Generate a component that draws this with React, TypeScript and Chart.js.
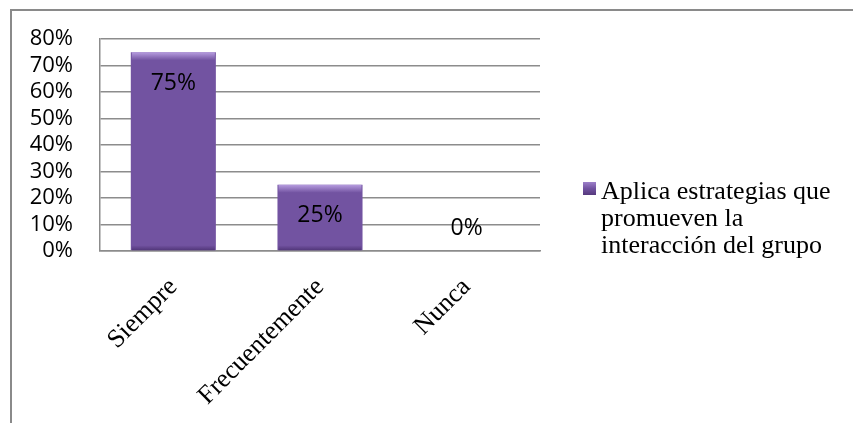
import React, { useEffect, useRef } from "react";
import { Chart, registerables } from "chart.js";

Chart.register(...registerables);

const categories = ["Siempre", "Frecuentemente", "Nunca"];
const values = [75, 25, 0];
const seriesName = "Aplica estrategias que promueven la interacción del grupo";
const legendLines = ["Aplica estrategias que", "promueven la", "interacción del grupo"];
const yMax = 80;
const yStep = 10;

const SANS = "'Open Sans', 'Liberation Sans', sans-serif";
const SERIF = "'Liberation Serif', 'DejaVu Serif', serif";

function barGradient(ctx: CanvasRenderingContext2D, x0: number, x1: number) {
  const g = ctx.createLinearGradient(x0, 0, x1, 0);
  g.addColorStop(0, "#5b3f86");
  g.addColorStop(0.07, "#7758a8");
  g.addColorStop(0.5, "#7253a1");
  g.addColorStop(0.93, "#6c4e9a");
  g.addColorStop(1, "#52377a");
  return g;
}

export default function App() {
  const canvasRef = useRef<HTMLCanvasElement | null>(null);

  useEffect(() => {
    const canvas = canvasRef.current;
    if (!canvas) return;

    const barBevelPlugin = {
      id: "barBevel",
      afterDatasetsDraw(chart: any) {
        const ctx = chart.ctx as CanvasRenderingContext2D;
        const meta = chart.getDatasetMeta(0);
        ctx.save();
        meta.data.forEach((el: any) => {
          const h = el.base - el.y;
          if (h <= 2) return;
          const x0 = el.x - el.width / 2;
          const g = ctx.createLinearGradient(0, el.y, 0, el.y + 8);
          g.addColorStop(0, "rgba(190,165,230,0.9)");
          g.addColorStop(1, "rgba(190,165,230,0)");
          ctx.fillStyle = g;
          ctx.fillRect(x0 + 1, el.y, el.width - 2, Math.min(8, h));
          const g2 = ctx.createLinearGradient(0, el.base - 5, 0, el.base);
          g2.addColorStop(0, "rgba(60,35,95,0)");
          g2.addColorStop(1, "rgba(60,35,95,0.6)");
          ctx.fillStyle = g2;
          ctx.fillRect(x0 + 1, el.base - 5, el.width - 2, 5);
        });
        ctx.restore();
      },
    };

    const dataLabelPlugin = {
      id: "dataLabels",
      afterDatasetsDraw(chart: any) {
        const ctx = chart.ctx as CanvasRenderingContext2D;
        const meta = chart.getDatasetMeta(0);
        ctx.save();
        ctx.font = `23px ${SANS}`;
        ctx.fillStyle = "#000";
        ctx.textAlign = "center";
        ctx.textBaseline = "middle";
        meta.data.forEach((el: any, i: number) => {
          const v = values[i];
          const y = v > 0 ? el.y + 31 : el.y - 23;
          ctx.fillText(`${v}%`, el.x, y);
        });
        ctx.restore();
      },
    };

    const legendPlugin = {
      id: "customLegend",
      afterDraw(chart: any) {
        const ctx = chart.ctx as CanvasRenderingContext2D;
        ctx.save();
        const sx = 583, sy = 182, s = 13;
        const g = ctx.createLinearGradient(sx, sy, sx, sy + s);
        g.addColorStop(0, "#9d80c9");
        g.addColorStop(0.5, "#7253a1");
        g.addColorStop(1, "#55397d");
        ctx.fillStyle = g;
        ctx.fillRect(sx, sy, s, s);
        ctx.font = `26px ${SERIF}`;
        ctx.fillStyle = "#000";
        ctx.textAlign = "left";
        ctx.textBaseline = "alphabetic";
        legendLines.forEach((line, i) => {
          ctx.fillText(line, 601, 199 + i * 27);
        });
        ctx.restore();
      },
    };

    const chart = new Chart(canvas, {
      type: "bar",
      data: {
        labels: categories,
        datasets: [
          {
            label: seriesName,
            data: values,
            backgroundColor: (c: any) => {
              const el = c.element;
              const ch = c.chart;
              if (!el || !ch.chartArea) return "#7253a1";
              const x = el.x;
              const w = el.width;
              if (!Number.isFinite(x) || !Number.isFinite(w) || w <= 0) return "#7253a1";
              return barGradient(ch.ctx, x - w / 2, x + w / 2);
            },
            borderWidth: 0,
            categoryPercentage: 1,
            barPercentage: 0.58,
          },
        ],
      },
      options: {
        animation: false,
        responsive: false,
        maintainAspectRatio: false,
        layout: { padding: { left: 0, top: 39, right: 313, bottom: 0 } },
        plugins: {
          legend: { display: false },
          tooltip: { enabled: false },
          title: { display: false },
        },
        scales: {
          x: {
            afterFit: (scale: any) => {
              scale.height = 423 - 251;
            },
            grid: { display: false, drawTicks: false },
            border: { display: true, color: "#8c8c8c", width: 1.5 },
            ticks: {
              autoSkip: false,
              maxRotation: 45,
              minRotation: 45,
              padding: 21,
              color: "#000",
              font: { family: SERIF, size: 26 },
            },
          },
          y: {
            min: 0,
            max: yMax,
            afterFit: (scale: any) => {
              scale.width = 100;
            },
            grid: { color: "#8c8c8c", lineWidth: 1.5, drawTicks: false },
            border: { display: true, color: "#8c8c8c", width: 1.5 },
            ticks: {
              autoSkip: false,
              stepSize: yStep,
              padding: 27,
              color: "#000",
              font: { family: SANS, size: 22, lineHeight: 1 },
              callback: (v: any) => `${v}%`,
            },
          },
        },
      },
      plugins: [barBevelPlugin, dataLabelPlugin, legendPlugin],
    });

    return () => chart.destroy();
  }, []);

  return (
    <div
      style={{
        position: "fixed",
        left: 0,
        top: 0,
        width: 853,
        height: 423,
        overflow: "hidden",
        background: "#fff",
      }}
    >
      <div
        style={{
          position: "absolute",
          left: 10,
          top: 9,
          width: 900,
          height: 500,
          borderTop: "2px solid #8a8a8a",
          borderLeft: "2px solid #8a8a8a",
        }}
      />
      <canvas
        ref={canvasRef}
        width={853}
        height={423}
        style={{ position: "absolute", left: 0, top: 0, width: 853, height: 423 }}
      />
    </div>
  );
}
